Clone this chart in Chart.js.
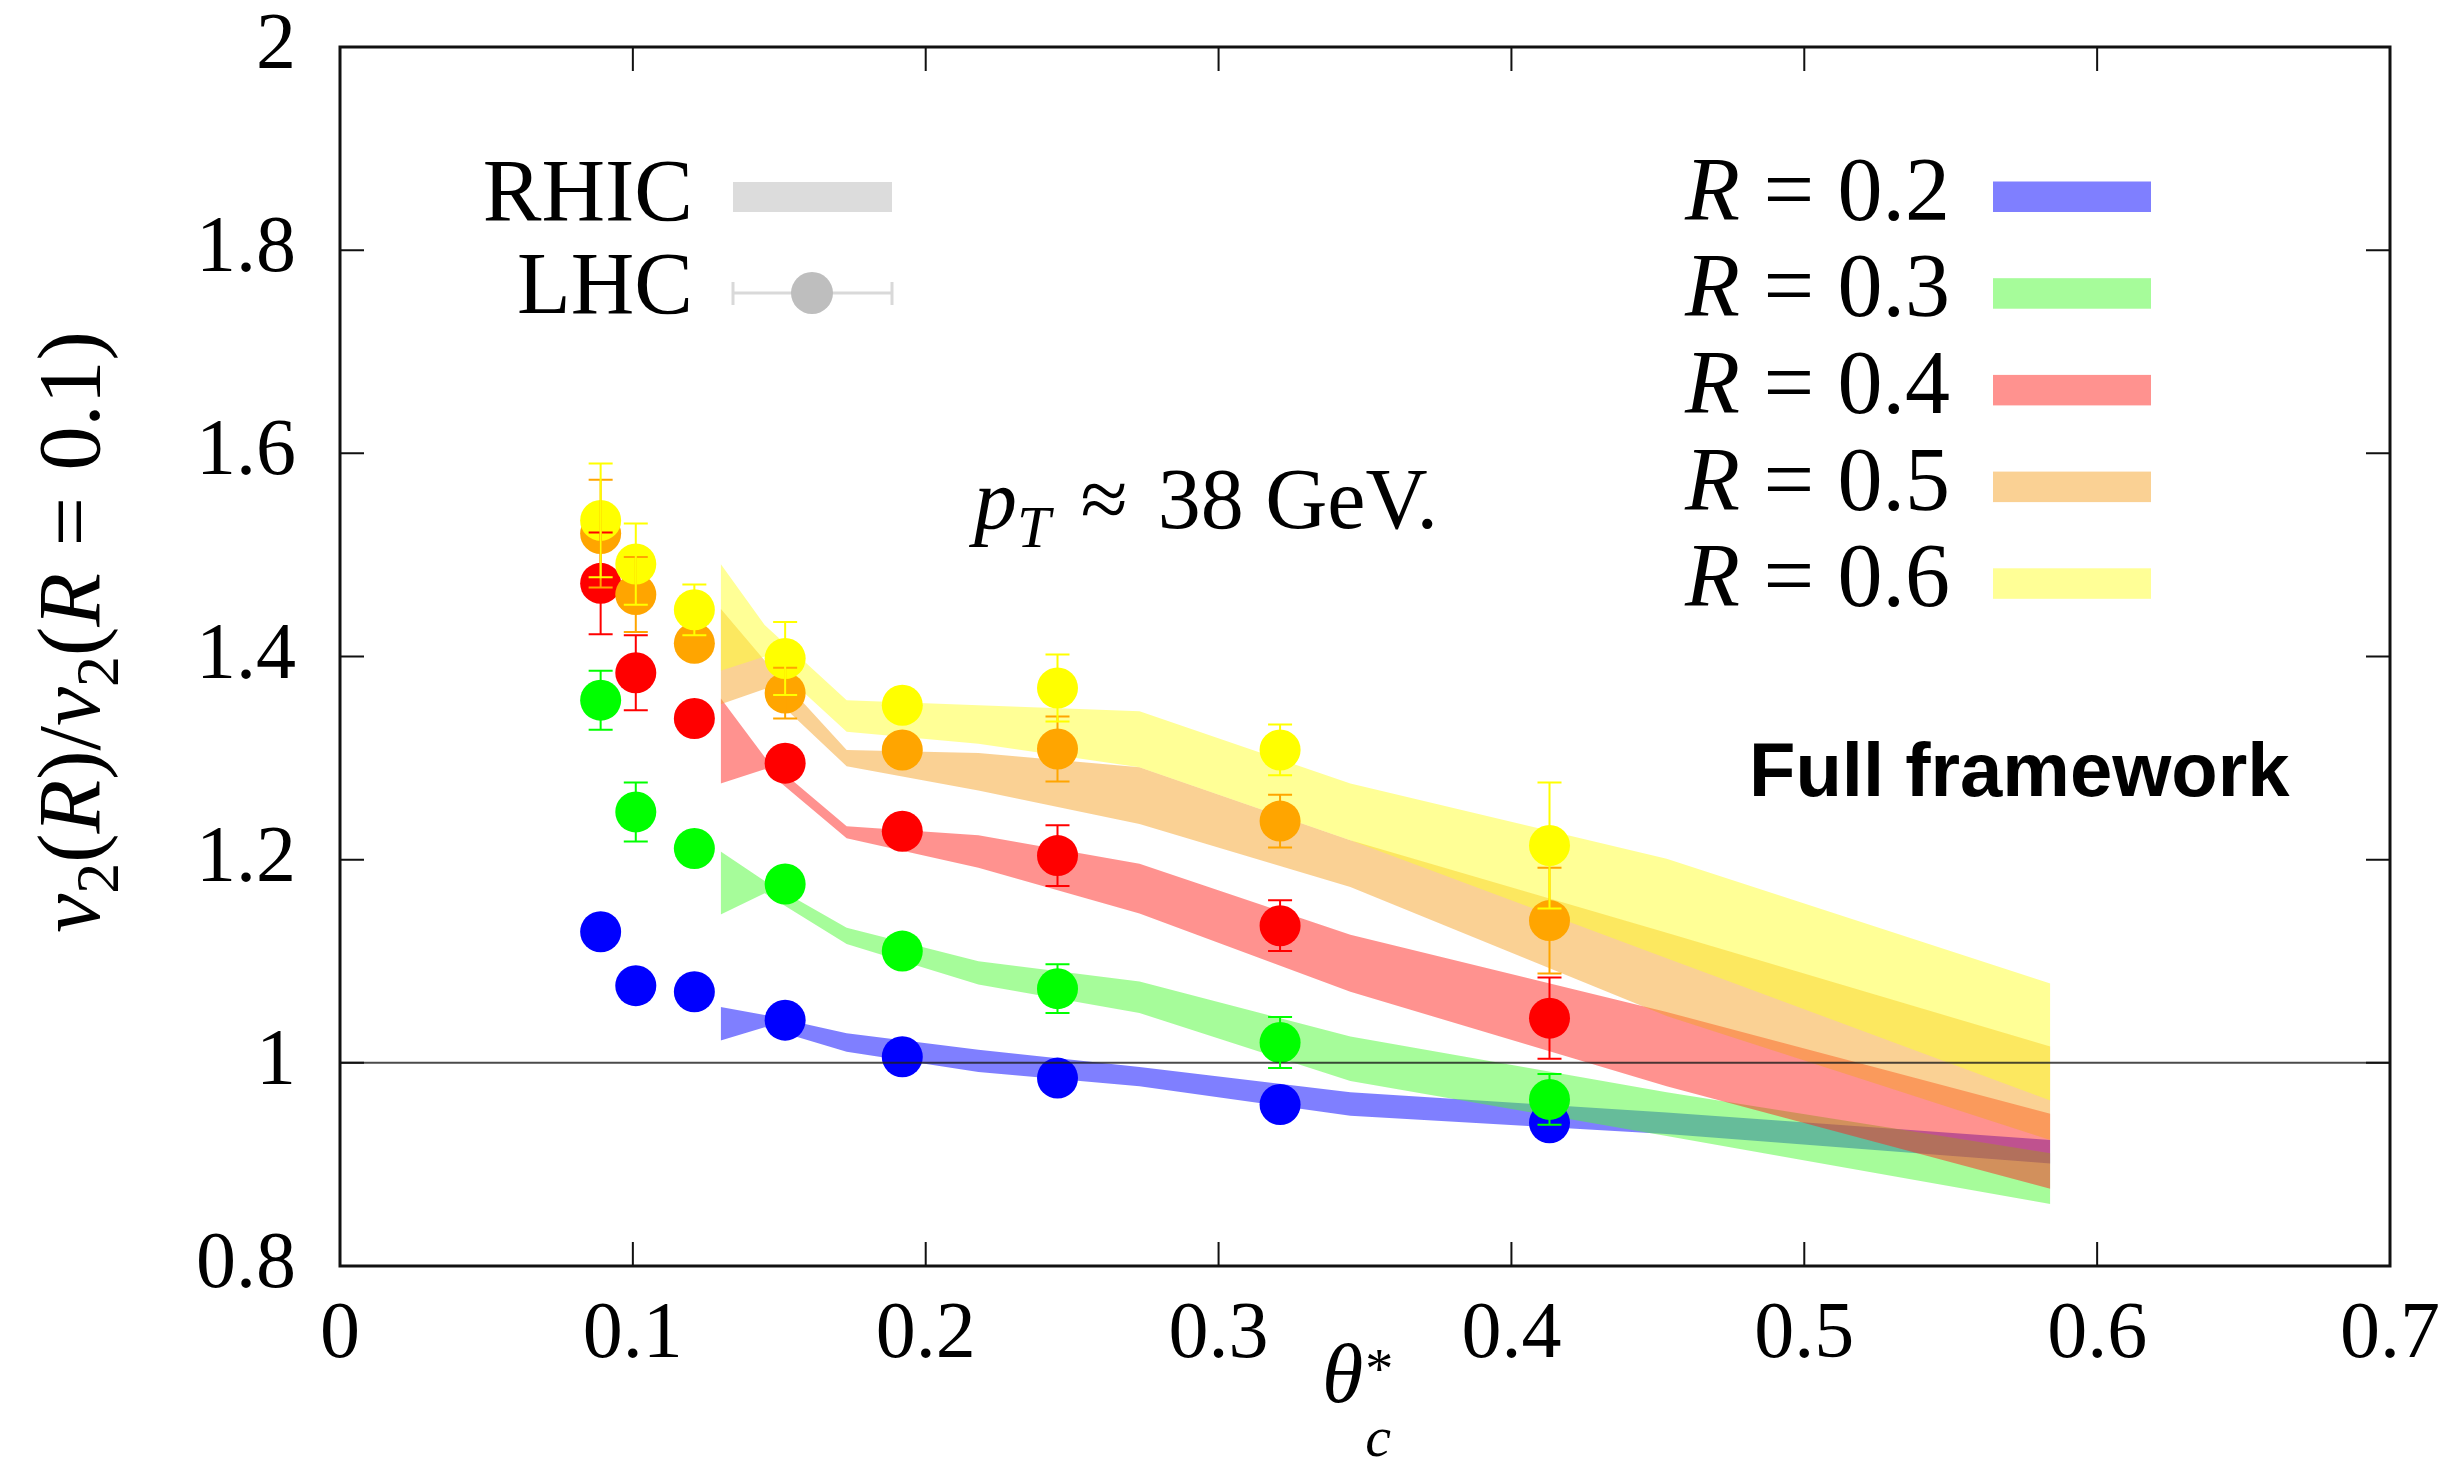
<!DOCTYPE html>
<html lang="en">
<head>
  <meta charset="UTF-8" />
  <title>v2(R)/v2(R=0.1) vs theta_c</title>
  <script src="https://cdn.jsdelivr.net/npm/chart.js"></script>
  <style>
    html, body { margin: 0; padding: 0; background: #fff; }
  </style>
</head>
<body>
  <canvas id="v2Chart" width="2443" height="1463"></canvas>

  <script>
    // LHC points (circles with error bars)
    const thetaLHC = [0.089, 0.101, 0.121, 0.152, 0.192, 0.245, 0.321, 0.413];
    const lhcR02 = [1.129, 1.076, 1.070, 1.042, 1.006, 0.985, 0.959, 0.941];
    const lhcR03 = [1.357, 1.247, 1.211, 1.176, 1.110, 1.073, 1.020, 0.964];
    const lhcR04 = [1.472, 1.384, 1.339, 1.295, 1.228, 1.204, 1.135, 1.044];
    const lhcR05 = [1.521, 1.461, 1.413, 1.364, 1.308, 1.309, 1.238, 1.140];
    const lhcR06 = [1.534, 1.491, 1.446, 1.398, 1.352, 1.369, 1.308, 1.214];
    const errR02 = [0, 0, 0, 0, 0, 0, 0, 0];
    const errR03 = [0.029, 0.029, 0, 0, 0, 0.024, 0.025, 0.025];
    const errR04 = [0.050, 0.037, 0, 0, 0, 0.030, 0.025, 0.040];
    const errR05 = [0.053, 0.037, 0, 0.025, 0, 0.032, 0.026, 0.052];
    const errR06 = [0.056, 0.040, 0.025, 0.036, 0, 0.033, 0.025, 0.062];

    // RHIC bands (upper / lower edge)
    const thetaRHIC = [0.130, 0.145, 0.173, 0.218, 0.273, 0.345, 0.453, 0.584];
    const rhicR02Hi = [1.055, 1.047, 1.029, 1.013, 0.996, 0.971, 0.951, 0.924];
    const rhicR02Lo = [1.022, 1.035, 1.011, 0.991, 0.977, 0.948, 0.930, 0.901];
    const rhicR03Hi = [1.208, 1.179, 1.133, 1.100, 1.080, 1.026, 0.971, 0.911];
    const rhicR03Lo = [1.146, 1.167, 1.117, 1.077, 1.049, 0.982, 0.928, 0.861];
    const rhicR04Hi = [1.359, 1.301, 1.233, 1.224, 1.196, 1.126, 1.050, 0.950];
    const rhicR04Lo = [1.275, 1.289, 1.221, 1.192, 1.147, 1.070, 0.977, 0.876];
    const rhicR05Hi = [1.447, 1.396, 1.308, 1.305, 1.291, 1.219, 1.128, 1.016];
    const rhicR05Lo = [1.353, 1.368, 1.292, 1.268, 1.235, 1.173, 1.046, 0.924];
    const rhicR06Hi = [1.491, 1.431, 1.357, 1.352, 1.346, 1.275, 1.201, 1.078];
    const rhicR06Lo = [1.386, 1.400, 1.326, 1.314, 1.291, 1.219, 1.103, 0.963];

    const radiusLabels = ['0.2', '0.3', '0.4', '0.5', '0.6'];
    const xTicks = [0, 0.7, 0.1];      // min, max, step
    const yTicks = [0.8, 2, 0.2];
    const refLevel = 1;

    const pointColors = ['#0000ff', '#00ff00', '#ff0000', '#ffa500', '#ffff00'];
    const bandColors = ['rgba(0,0,255,0.5)', 'rgba(77,250,53,0.5)', 'rgba(255,37,31,0.5)',
                        'rgba(245,163,41,0.5)', 'rgba(255,255,45,0.5)'];

    const series = [
      { lhc: lhcR02, err: errR02, hi: rhicR02Hi, lo: rhicR02Lo },
      { lhc: lhcR03, err: errR03, hi: rhicR03Hi, lo: rhicR03Lo },
      { lhc: lhcR04, err: errR04, hi: rhicR04Hi, lo: rhicR04Lo },
      { lhc: lhcR05, err: errR05, hi: rhicR05Hi, lo: rhicR05Lo },
      { lhc: lhcR06, err: errR06, hi: rhicR06Hi, lo: rhicR06Lo }
    ];

    const SERIF = '"Liberation Serif", "DejaVu Serif", serif';
    const toXY = (xs, ys) => xs.map((x, i) => ({ x, y: ys[i] }));

    // datasets: lower `order` is painted on top, so R=0.6 sits above R=0.2
    const datasets = [{
      label: 'unity',
      data: [{ x: xTicks[0], y: refLevel }, { x: xTicks[1], y: refLevel }],
      borderColor: 'rgba(30,30,30,0.8)',
      borderWidth: 2,
      pointRadius: 0,
      fill: false,
      order: 0
    }];

    series.forEach((s, k) => {
      datasets.push({
        label: 'LHC R=' + radiusLabels[k],
        data: toXY(thetaLHC, s.lhc),
        showLine: false,
        pointRadius: 20.5,
        pointBackgroundColor: pointColors[k],
        pointBorderWidth: 0,
        order: 5 - k
      });
      datasets.push({
        label: 'RHIC low R=' + radiusLabels[k],
        data: toXY(thetaRHIC, s.lo),
        borderWidth: 0,
        pointRadius: 0,
        fill: false,
        order: 14 - k
      });
      datasets.push({
        label: 'RHIC R=' + radiusLabels[k],
        data: toXY(thetaRHIC, s.hi),
        borderWidth: 0,
        pointRadius: 0,
        backgroundColor: bandColors[k],
        fill: '-1',
        order: 14 - k
      });
    });

    function fmtTick(v) {
      const r = Math.round(v * 10) / 10;
      return Number.isInteger(r) ? String(r) : r.toFixed(1);
    }

    // text made of pieces: {t, it, sub, sup, gap}
    function drawRich(ctx, runs, x, y, size, align) {
      const fontOf = r => (r.it ? 'italic ' : '') + Math.round(size * (r.sub || r.sup ? 0.7 : 1)) + 'px ' + SERIF;
      let w = 0;
      runs.forEach(r => {
        ctx.font = fontOf(r);
        r.w = r.gap !== undefined ? r.gap * size : ctx.measureText(r.t).width;
        w += r.w;
      });
      let cx = align === 'center' ? x - w / 2 : align === 'right' ? x - w : x;
      ctx.textAlign = 'left';
      ctx.textBaseline = 'alphabetic';
      runs.forEach(r => {
        if (r.gap === undefined) {
          ctx.font = fontOf(r);
          ctx.fillText(r.t, cx, y + (r.sub ? size * 0.22 : r.sup ? -size * 0.4 : 0));
        }
        cx += r.w;
      });
    }

    const errorBars = {
      id: 'errorBars',
      afterDatasetsDraw(chart) {
        const { ctx, scales: { x, y } } = chart;
        ctx.save();
        ctx.lineWidth = 2;
        series.forEach((s, k) => {
          ctx.strokeStyle = pointColors[k];
          thetaLHC.forEach((t, i) => {
            const e = s.err[i];
            if (!e) return;
            const px = x.getPixelForValue(t);
            const top = y.getPixelForValue(s.lhc[i] + e);
            const bot = y.getPixelForValue(s.lhc[i] - e);
            ctx.beginPath();
            ctx.moveTo(px, top); ctx.lineTo(px, bot);
            ctx.moveTo(px - 12, top); ctx.lineTo(px + 12, top);
            ctx.moveTo(px - 12, bot); ctx.lineTo(px + 12, bot);
            ctx.stroke();
          });
        });
        ctx.restore();
      }
    };

    const frameAndTicks = {
      id: 'frameAndTicks',
      afterDraw(chart) {
        const { ctx, chartArea: a, scales: { x, y } } = chart;
        ctx.save();
        ctx.strokeStyle = '#111';
        ctx.lineWidth = 2;
        const len = 24;
        ctx.beginPath();
        x.ticks.forEach(t => {
          const px = x.getPixelForValue(t.value);
          ctx.moveTo(px, a.bottom); ctx.lineTo(px, a.bottom - len);
          ctx.moveTo(px, a.top); ctx.lineTo(px, a.top + len);
        });
        y.ticks.forEach(t => {
          const py = y.getPixelForValue(t.value);
          ctx.moveTo(a.left, py); ctx.lineTo(a.left + len, py);
          ctx.moveTo(a.right, py); ctx.lineTo(a.right - len, py);
        });
        ctx.stroke();
        ctx.lineWidth = 3;
        ctx.strokeRect(a.left, a.top, a.right - a.left, a.bottom - a.top);
        ctx.restore();
      }
    };

    const annotations = {
      id: 'annotations',
      afterDraw(chart) {
        const ctx = chart.ctx;
        ctx.save();
        ctx.fillStyle = '#000';

        // RHIC / LHC key
        ctx.font = '88px ' + SERIF;
        ctx.textAlign = 'right';
        ctx.textBaseline = 'alphabetic';
        ctx.fillText('RHIC', 693, 220);
        ctx.fillText('LHC', 693, 313);
        ctx.fillStyle = '#dcdcdc';
        ctx.fillRect(733, 182, 159, 30);
        ctx.strokeStyle = '#d9d9d9';
        ctx.lineWidth = 3;
        ctx.beginPath();
        ctx.moveTo(733, 293); ctx.lineTo(892, 293);
        ctx.moveTo(733, 282); ctx.lineTo(733, 305);
        ctx.moveTo(892, 282); ctx.lineTo(892, 305);
        ctx.stroke();
        ctx.fillStyle = '#bebebe';
        ctx.beginPath();
        ctx.arc(812, 293, 21, 0, Math.PI * 2);
        ctx.fill();

        // R = ... key
        radiusLabels.forEach((r, k) => {
          const top = 181.5 + k * 96.7;
          ctx.fillStyle = bandColors[k];
          ctx.fillRect(1993, top, 158, 30.5);
          ctx.fillStyle = '#000';
          drawRich(ctx, [{ t: 'R', it: true }, { gap: 0.26 }, { t: '=' }, { gap: 0.26 }, { t: r }],
                   1685, top + 38, 90, 'left');
        });

        // p_T label
        drawRich(ctx, [{ t: 'p', it: true }, { t: 'T', it: true, sub: true }, { gap: 0.35 }, { t: '\u2248' },
                       { gap: 0.35 }, { t: '38 GeV.' }], 974, 528, 86, 'left');

        // Full framework
        ctx.font = 'bold 76px "Liberation Sans", Arial, sans-serif';
        ctx.textAlign = 'left';
        ctx.fillText('Full framework', 1749, 796);

        // y-axis title
        ctx.save();
        ctx.translate(99, 632);
        ctx.rotate(-Math.PI / 2);
        drawRich(ctx, [{ t: 'v', it: true }, { t: '2', sub: true }, { t: '(' }, { t: 'R', it: true }, { t: ')/' },
                       { t: 'v', it: true }, { t: '2', sub: true }, { t: '(' }, { t: 'R', it: true },
                       { gap: 0.3 }, { t: '=' }, { gap: 0.3 }, { t: '0.1)' }], 0, 0, 88, 'center');
        ctx.restore();

        // x-axis title: theta*_c
        ctx.font = 'italic 84px ' + SERIF;
        ctx.textAlign = 'left';
        ctx.fillText('\u03B8', 1322, 1402);
        const tw = ctx.measureText('\u03B8').width;
        ctx.font = '56px ' + SERIF;
        ctx.fillText('*', 1322 + tw + 2, 1388);
        ctx.font = 'italic 58px ' + SERIF;
        ctx.fillText('c', 1322 + tw + 2, 1456);
        ctx.restore();
      }
    };

    const tickFont = { family: 'Liberation Serif', size: 80 };

    new Chart(document.getElementById('v2Chart').getContext('2d'), {
      type: 'line',
      data: { datasets },
      options: {
        responsive: false,
        animation: false,
        devicePixelRatio: 1,
        layout: { padding: { top: 47, right: 53, left: 0, bottom: 0 } },
        plugins: {
          legend: { display: false },
          tooltip: { enabled: false }
        },
        scales: {
          x: {
            type: 'linear',
            min: xTicks[0],
            max: xTicks[1],
            afterFit: s => { s.height = 197; },
            // tick marks are drawn by frameAndTicks; tickLength only spaces the labels
            grid: { display: false, drawTicks: true, tickLength: 22 },
            border: { display: false },
            ticks: { stepSize: xTicks[2], padding: 0, color: '#000', font: tickFont,
                     maxRotation: 0, autoSkip: false, callback: fmtTick }
          },
          y: {
            type: 'linear',
            min: yTicks[0],
            max: yTicks[1],
            afterFit: s => { s.width = 340; },
            grid: { display: false, drawTicks: true, tickLength: 44 },
            border: { display: false },
            ticks: { stepSize: yTicks[2], padding: 0, color: '#000',
                     font: Object.assign({ lineHeight: 1.1 }, tickFont),
                     autoSkip: false, callback: fmtTick }
          }
        }
      },
      plugins: [errorBars, frameAndTicks, annotations]
    });
  </script>
</body>
</html>
